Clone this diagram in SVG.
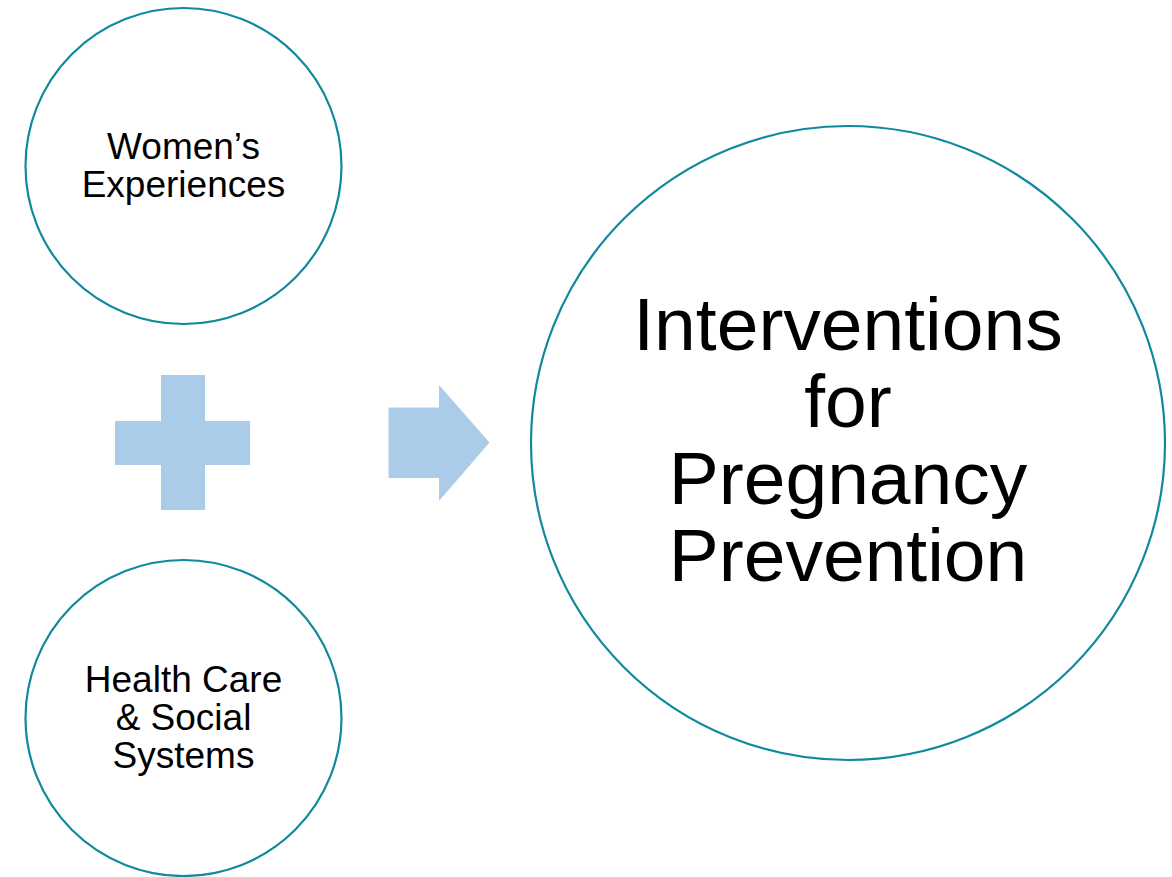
<svg xmlns="http://www.w3.org/2000/svg" width="1172" height="877" viewBox="0 0 1172 877">
  <style>
    .ring { fill: #ffffff; stroke: #11899D; stroke-width: 2.2; }
    .shape { fill: #ABCCE9; }
    .lbl { font-family: "Liberation Sans", Arial, sans-serif; fill: #000000; text-anchor: middle; }
    .small { font-size: 37px; }
    .big { font-size: 75px; }
  </style>
  <rect width="1172" height="877" fill="#ffffff"/>

  <g id="womens-experiences">
    <circle class="ring" cx="183.5" cy="166" r="158"/>
    <text class="lbl small" x="183.5" y="159">Women’s</text>
    <text class="lbl small" x="183.5" y="197">Experiences</text>
  </g>

  <g id="health-care-social-systems">
    <circle class="ring" cx="183.5" cy="718" r="158"/>
    <text class="lbl small" x="183.5" y="692">Health Care</text>
    <text class="lbl small" x="183.5" y="730">&amp; Social</text>
    <text class="lbl small" x="183.5" y="768">Systems</text>
  </g>

  <g id="plus">
    <path class="shape" d="M161,375 H205 V421 H250 V465 H205 V510 H161 V465 H115 V421 H161 Z"/>
  </g>

  <g id="connectors">
    <path class="shape" d="M388.5,407.5 H439 V385 L489.5,442.5 L439,501 V478 H388.5 Z"/>
  </g>

  <g id="interventions">
    <circle class="ring" cx="848" cy="443" r="317"/>
    <text class="lbl big" x="848" y="350">Interventions</text>
    <text class="lbl big" x="848" y="427">for</text>
    <text class="lbl big" x="848" y="504">Pregnancy</text>
    <text class="lbl big" x="848" y="581">Prevention</text>
  </g>
</svg>
